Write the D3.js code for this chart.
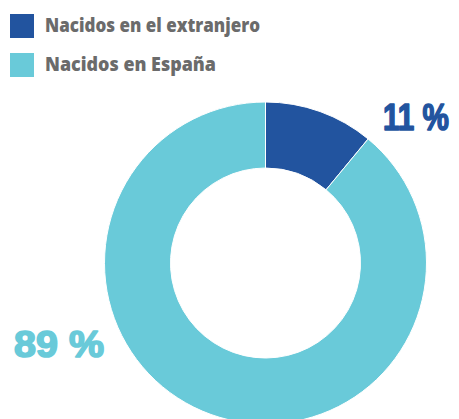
<!DOCTYPE html>
<html>
<head>
<meta charset="utf-8">
<script src="https://cdn.jsdelivr.net/npm/d3@7"></script>
<style>
  html, body { margin: 0; padding: 0; background: #fff; }
  svg { display: block; }
</style>
</head>
<body>
<svg id="chart" width="459" height="419"></svg>
<script>
const categories = ["Nacidos en el extranjero", "Nacidos en España"];
const values = [11, 89];
const labels = ["11 %", "89 %"];
const colors = ["#22549f", "#69cad9"];

const svg = d3.select("#chart");
const cx = 265.5, cy = 263, rOuter = 161, rInner = 95;

const pie = d3.pie().sort(null).value(d => d)(values);
const arc = d3.arc().innerRadius(rInner).outerRadius(rOuter);

const g = svg.append("g").attr("transform", `translate(${cx},${cy})`);
g.selectAll("path").data(pie).join("path")
  .attr("d", arc)
  .attr("fill", (d, i) => colors[i])
  .attr("stroke", "#fff")
  .attr("stroke-width", 1);

// Legend
const legend = svg.append("g");
const legendY = [14, 53];
const legendTextWidth = [215, 171];
categories.forEach((c, i) => {
  legend.append("rect")
    .attr("x", 10).attr("y", legendY[i])
    .attr("width", 24).attr("height", 24)
    .attr("fill", colors[i]);
  legend.append("text")
    .attr("x", 45).attr("y", legendY[i] + 18)
    .attr("font-family", "Open Sans, Liberation Sans, Arial, sans-serif")
    .attr("font-weight", 800)
    .attr("font-size", 19)
    .attr("fill", "#6b6b6b")
    .attr("textLength", legendTextWidth[i])
    .attr("lengthAdjust", "spacingAndGlyphs")
    .text(c);
});

// Value labels
const labelPos = [{x: 383, y: 130, w: 66}, {x: 14, y: 357, w: 90}];
labels.forEach((t, i) => {
  svg.append("text")
    .attr("transform", `translate(${labelPos[i].x},${labelPos[i].y}) scale(1,1.2)`)
    .attr("font-family", "Liberation Sans, Arial, sans-serif")
    .attr("font-weight", "bold")
    .attr("font-size", 30)
    .attr("fill", colors[i])
    .attr("stroke", colors[i]).attr("stroke-width", 1.3)
    .attr("stroke-linejoin", "round")
    .attr("textLength", labelPos[i].w)
    .attr("lengthAdjust", "spacingAndGlyphs")
    .text(t);
});
</script>
</body>
</html>
